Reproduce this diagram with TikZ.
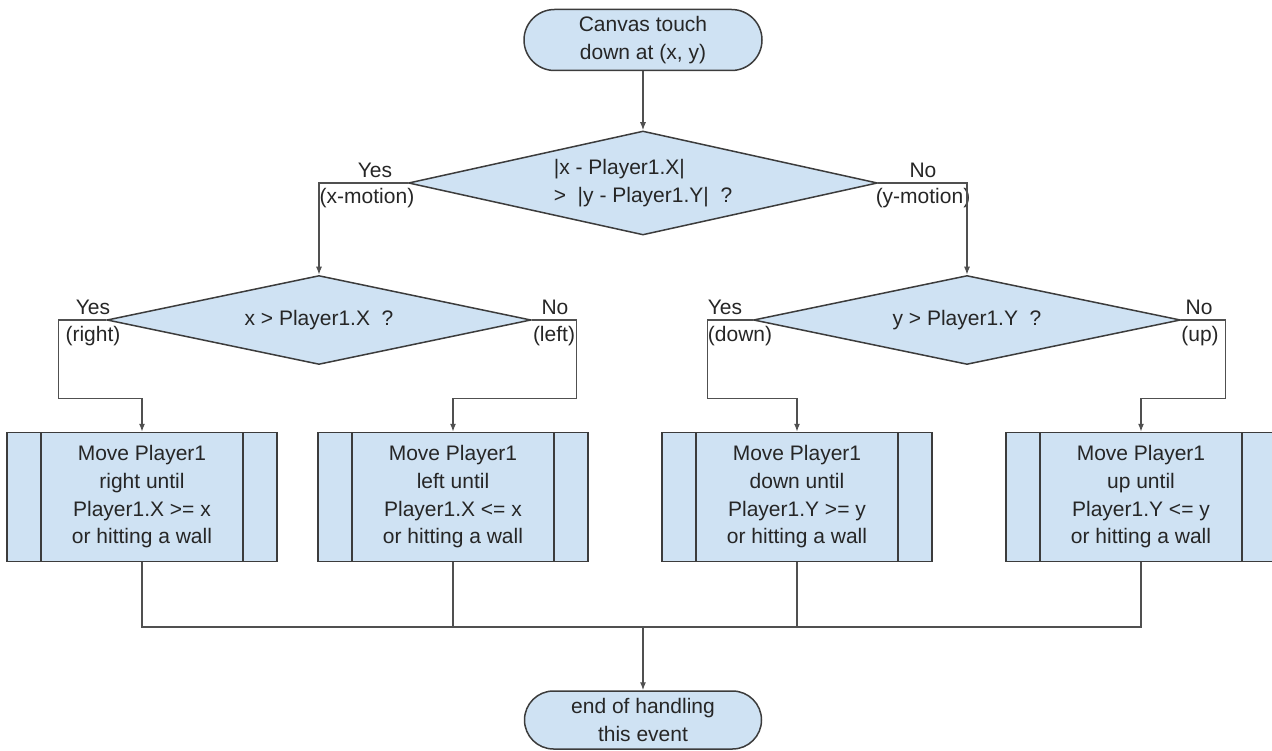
\documentclass[tikz,border=0pt]{standalone}
\usepackage{fontspec}
\setmainfont{Liberation Sans}
\usetikzlibrary{shapes.geometric,shapes.misc,arrows.meta}
\definecolor{boxfill}{HTML}{CFE2F3}
\definecolor{boxline}{HTML}{3C3C3C}
\definecolor{wiregray}{HTML}{505050}
\tikzset{
  every node/.style={font=\fontsize{21}{27.7}\selectfont, text=black!85},
  term/.style={rounded rectangle, draw=boxline, fill=boxfill, line width=1.5pt,
    minimum width=238pt, minimum height=61pt, align=center, inner sep=0pt},
  decide/.style={diamond, draw=boxline, fill=boxfill, line width=1.5pt,
    aspect=4.5, inner sep=0pt, align=center},
  proc/.style={rectangle, draw=boxline, fill=boxfill, line width=1.5pt,
    minimum width=270pt, minimum height=129pt, align=center, inner sep=0pt,
    path picture={\draw[boxline, line width=1.5pt]
      ([xshift=34pt]path picture bounding box.north west) -- ([xshift=34pt]path picture bounding box.south west)
      ([xshift=-34pt]path picture bounding box.north east) -- ([xshift=-34pt]path picture bounding box.south east);}},
  wire/.style={draw=wiregray, line width=1.3pt},
  arr/.style={wire, -{Latex[length=8pt,width=6pt]}},
  lbl/.style={inner sep=0pt}
}
\begin{document}
\begin{tikzpicture}[x=1pt, y=-1pt]
    \useasboundingbox (0,0) rectangle (1272,751);

    \node[term] (start) at (643,40) {Canvas touch\\down at (x, y)};
    \node[decide, minimum width=469pt, minimum height=104pt, align=left] (dxy) at (643,183)
        {|x - Player1.X|\\>\ \ |y - Player1.Y|\ \ ?};
    \node[decide, minimum width=424pt, minimum height=89pt] (dx) at (319,320) {x > Player1.X\ \ ?};
    \node[decide, minimum width=427pt, minimum height=89pt] (dy) at (967,320) {y > Player1.Y\ \ ?};

    \node[proc] (right) at (142,497) {Move Player1\\right until\\Player1.X >= x\\or hitting a wall};
    \node[proc] (left) at (453,497) {Move Player1\\left until\\Player1.X <= x\\or hitting a wall};
    \node[proc] (down) at (797,497) {Move Player1\\down until\\Player1.Y >= y\\or hitting a wall};
    \node[proc] (up) at (1141,497) {Move Player1\\up until\\Player1.Y <= y\\or hitting a wall};

    \node[term, minimum width=237pt, minimum height=58pt] (finish) at (643,720) {end of handling\\this event};

    \node[lbl] (yesxy) at (375,170) {Yes};
    \node[lbl] (xmot) at (367,198) {(x-motion)};
    \node[lbl] (noxy) at (923,170) {No};
    \node[lbl] (ymot) at (923,198) {(y-motion)};
    \node[lbl] (yesx) at (93,307) {Yes};
    \node[lbl] (rt) at (93,336) {(right)};
    \node[lbl] (nox) at (555,307) {No};
    \node[lbl] (lf) at (554,336) {(left)};
    \node[lbl] (yesy) at (725,307) {Yes};
    \node[lbl] (dn) at (740,336) {(down)};
    \node[lbl] (noy) at (1199,307) {No};
    \node[lbl] (upl) at (1200,336) {(up)};

    \coordinate (join) at (643,627);

    \draw[arr] (start.south) -- (dxy.north);
    \draw[arr] (dxy.west) -| (dx.north);
    \draw[arr] (dxy.east) -| (dy.north);

    \draw[arr] (dx.west) -- ++(-48,0) |- ([yshift=33pt]right.north) -- (right.north);
    \draw[arr] (dx.east) -- ++(45,0) |- ([yshift=33pt]left.north) -- (left.north);
    \draw[arr] (dy.west) -- ++(-45,0) |- ([yshift=33pt]down.north) -- (down.north);
    \draw[arr] (dy.east) -- ++(44,0) |- ([yshift=33pt]up.north) -- (up.north);

    \draw[wire] (right.south) |- (join) -| (up.south);
    \draw[wire] (left.south) -- (left.south |- join);
    \draw[wire] (down.south) -- (down.south |- join);
    \draw[arr] (join) -- (finish.north);
\end{tikzpicture}
\end{document}
